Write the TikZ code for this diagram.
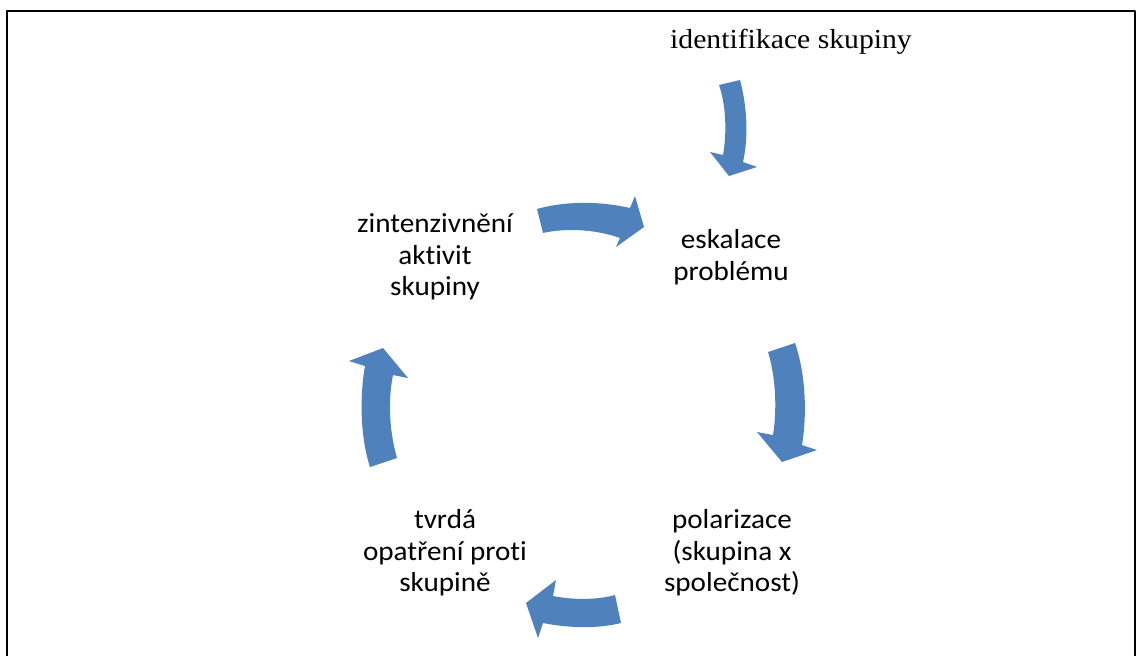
\documentclass[tikz,border=0pt]{standalone}
\usepackage{fontspec}
\newfontfamily\lblsans[FakeStretch=1.06,Ligatures=NoCommon]{Carlito}
\newfontfamily\lblserif[FakeStretch=1.08]{Liberation Serif}
\definecolor{cyclblue}{HTML}{4F81BD}
\tikzset{
  steplabel/.style={align=center,inner sep=0pt,font={\lblsans\fontsize{27.5}{31.5}\selectfont}},
  cyclearrow/.style={fill=cyclblue,draw=none}
}
\begin{document}
\begin{tikzpicture}[line cap=round,line join=round,x=1pt,y=-1pt]
\useasboundingbox (0,0) rectangle (1137,656);
% frame
\draw[line width=1.6pt,line cap=butt] (7,656)--(7,11)--(1135,11)--(1135,656);
% texts
\node[inner sep=0pt,anchor=base,font={\lblserif\fontsize{27.5}{32}\selectfont}] (ident) at (791,48) {identifikace skupiny};
\node[steplabel] (eskal) at (731,257) {eskalace\\problému};
\node[steplabel] (polar) at (732,553) {polarizace\\(skupina x\\společnost)};
\node[steplabel] (tvrda) at (445,553) {tvrdá\\opatření proti\\skupině};
\node[steplabel] (zinten) at (435,257) {zintenzivnění\\aktivit\\skupiny};
% arrows
\fill[cyclearrow] (719,85) -- (740,80) .. controls (748,110) and (748,140) .. (743,162) -- (757,167) -- (729,176) -- (710,152) -- (723,155) .. controls (727,133) and (726,105) .. (719,85) -- cycle;
\fill[cyclearrow] (537,209) .. controls (565,201) and (600,201) .. (630,208) -- (635,196) -- (644,227) -- (616,247) -- (620,238) .. controls (595,229) and (565,228) .. (543,233) -- cycle;
\fill[cyclearrow] (768,352) -- (795,343) .. controls (806,375) and (807,415) .. (802,445) -- (817,450) -- (782,462) -- (757,432) -- (773,435) .. controls (777,410) and (776,378) .. (768,352) -- cycle;
\fill[cyclearrow] (615,595) -- (621,623) .. controls (597,629) and (568,628) .. (543,623) -- (538,638) -- (526,603) -- (556,580) -- (553,596) .. controls (573,600) and (597,600) .. (615,595) -- cycle;
\fill[cyclearrow] (370,467) -- (397,458) .. controls (389,430) and (388,400) .. (393,375) -- (408,378) -- (383,348) -- (349,361) -- (365,366) .. controls (359,400) and (361,440) .. (370,467) -- cycle;
\end{tikzpicture}
\end{document}
